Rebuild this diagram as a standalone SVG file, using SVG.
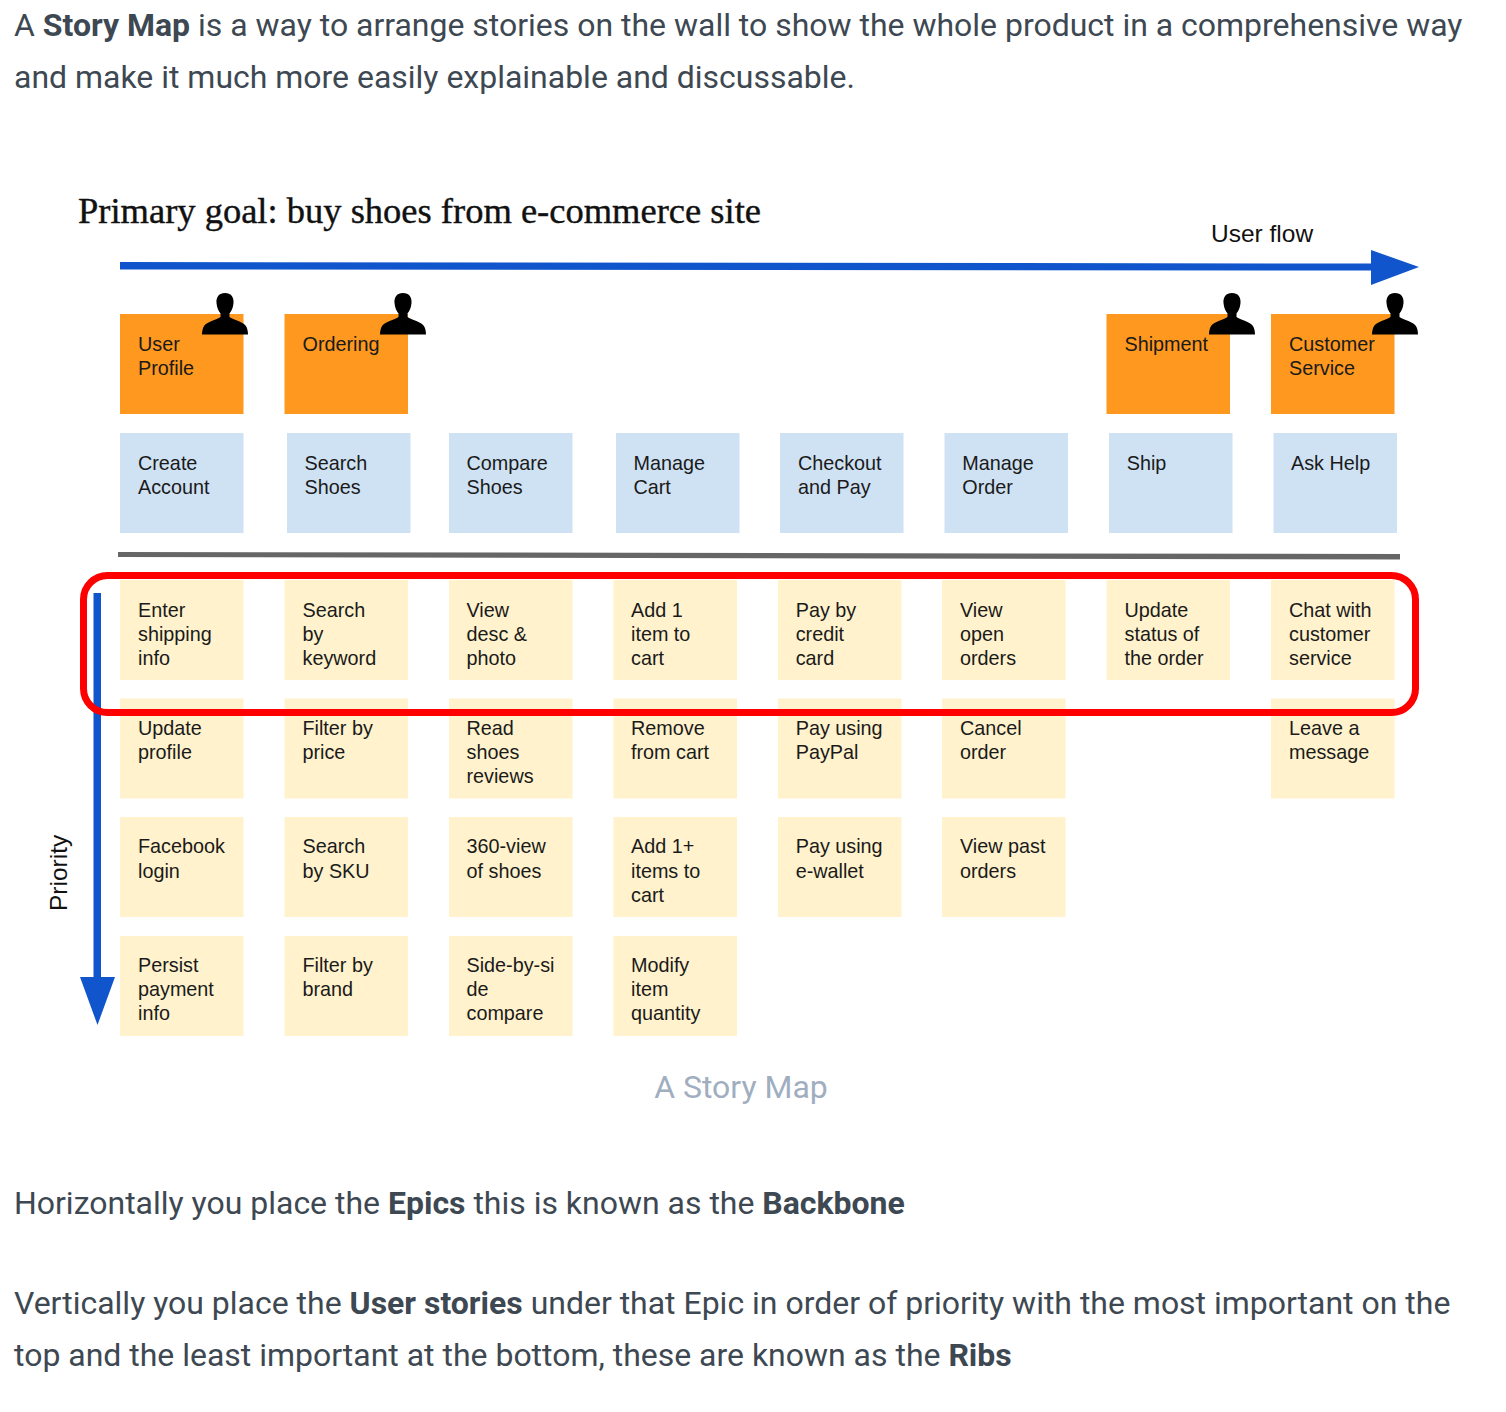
<svg xmlns="http://www.w3.org/2000/svg" width="1506" height="1412" viewBox="0 0 1506 1412">
<style>
.p{font-family:Roboto,"Liberation Sans",sans-serif;font-size:31.970px;fill:#3d4852}
.b{font-weight:700}
.c{font-family:"Liberation Sans",Arial,sans-serif;font-size:19.800px;fill:#1a1a1a}
.o{fill:#fe981e}.l{fill:#cfe2f3}.y{fill:#fff2cc}
.f{fill:#1155cc}
</style>
<defs>
<path id="person" d="M23 0C17 0 14 4 14.500 10C15 15 16.500 18 18.500 20.500V24C15 27 4 28.500 1.500 34C0.700 36 0 38 0 41.500H46C46 38 45.300 36 44.500 34C42 28.500 31 27 27.500 24V20.500C29.500 18 31 15 31.500 10C32 4 29 0 23 0Z" fill="#000"/>
</defs>
<rect width="1506" height="1412" fill="#fff"/>
<g id="intro">
<text class="p" x="14" y="36">A <tspan class="b">Story Map</tspan> is a way to arrange stories on the wall to show the whole product in a comprehensive way</text>
<text class="p" x="14" y="88">and make it much more easily explainable and discussable.</text>
</g>
<text id="title" x="78" y="223" font-family="'Liberation Serif',serif" font-size="36" fill="#111" stroke="#111" stroke-width="0.400" textLength="683" lengthAdjust="spacingAndGlyphs">Primary goal: buy shoes from e-commerce site</text>
<text id="userflow" x="1211" y="242" font-family="'Liberation Sans',sans-serif" font-size="24.500" fill="#111">User flow</text>
<text id="priority" transform="translate(67 911) rotate(-90)" font-family="'Liberation Sans',sans-serif" font-size="24.500" fill="#111">Priority</text>

<g id="u1"><rect class="o" x="120" y="314" width="123.500" height="100"/><use href="#person" x="202" y="293"/><text class="c" x="138" y="351">User</text><text class="c" x="138" y="375">Profile</text></g>
<g id="u2"><rect class="o" x="284.500" y="314" width="123.500" height="100"/><use href="#person" x="380" y="293"/><text class="c" x="302.500" y="351">Ordering</text></g>
<g id="u7"><rect class="o" x="1106.500" y="314" width="123.500" height="100"/><use href="#person" x="1209" y="293"/><text class="c" x="1124.500" y="351">Shipment</text></g>
<g id="u8"><rect class="o" x="1271" y="314" width="123.500" height="100"/><use href="#person" x="1372" y="293"/><text class="c" x="1289" y="351">Customer</text><text class="c" x="1289" y="375">Service</text></g>

<g id="a1"><rect class="l" x="120" y="433" width="123.500" height="100"/><text class="c" x="138" y="470">Create</text><text class="c" x="138" y="494">Account</text></g>
<g id="a2"><rect class="l" x="287" y="433" width="123.500" height="100"/><text class="c" x="304.500" y="470">Search</text><text class="c" x="304.500" y="494">Shoes</text></g>
<g id="a3"><rect class="l" x="449" y="433" width="123.500" height="100"/><text class="c" x="466.500" y="470">Compare</text><text class="c" x="466.500" y="494">Shoes</text></g>
<g id="a4"><rect class="l" x="616" y="433" width="123.500" height="100"/><text class="c" x="633.500" y="470">Manage</text><text class="c" x="633.500" y="494">Cart</text></g>
<g id="a5"><rect class="l" x="780" y="433" width="123.500" height="100"/><text class="c" x="798" y="470">Checkout</text><text class="c" x="798" y="494">and Pay</text></g>
<g id="a6"><rect class="l" x="944.500" y="433" width="123.500" height="100"/><text class="c" x="962.300" y="470">Manage</text><text class="c" x="962.300" y="494">Order</text></g>
<g id="a7"><rect class="l" x="1109" y="433" width="123.500" height="100"/><text class="c" x="1126.700" y="470">Ship</text></g>
<g id="a8"><rect class="l" x="1273.500" y="433" width="123.500" height="100"/><text class="c" x="1291" y="470">Ask Help</text></g>

<g id="r1c1"><rect class="y" x="120" y="580" width="123.500" height="100"/><text class="c" x="138" y="617">Enter</text><text class="c" x="138" y="641">shipping</text><text class="c" x="138" y="665">info</text></g>
<g id="r1c2"><rect class="y" x="284.500" y="580" width="123.500" height="100"/><text class="c" x="302.500" y="617">Search</text><text class="c" x="302.500" y="641">by</text><text class="c" x="302.500" y="665">keyword</text></g>
<g id="r1c3"><rect class="y" x="449" y="580" width="123.500" height="100"/><text class="c" x="466.500" y="617">View</text><text class="c" x="466.500" y="641">desc &amp;</text><text class="c" x="466.500" y="665">photo</text></g>
<g id="r1c4"><rect class="y" x="613.500" y="580" width="123.500" height="100"/><text class="c" x="631" y="617">Add 1</text><text class="c" x="631" y="641">item to</text><text class="c" x="631" y="665">cart</text></g>
<g id="r1c5"><rect class="y" x="778" y="580" width="123.500" height="100"/><text class="c" x="795.700" y="617">Pay by</text><text class="c" x="795.700" y="641">credit</text><text class="c" x="795.700" y="665">card</text></g>
<g id="r1c6"><rect class="y" x="942" y="580" width="123.500" height="100"/><text class="c" x="960" y="617">View</text><text class="c" x="960" y="641">open</text><text class="c" x="960" y="665">orders</text></g>
<g id="r1c7"><rect class="y" x="1106.500" y="580" width="123.500" height="100"/><text class="c" x="1124.500" y="617">Update</text><text class="c" x="1124.500" y="641">status of</text><text class="c" x="1124.500" y="665">the order</text></g>
<g id="r1c8"><rect class="y" x="1271" y="580" width="123.500" height="100"/><text class="c" x="1289" y="617">Chat with</text><text class="c" x="1289" y="641">customer</text><text class="c" x="1289" y="665">service</text></g>

<g id="r2c1"><rect class="y" x="120" y="698.500" width="123.500" height="100"/><text class="c" x="138" y="735">Update</text><text class="c" x="138" y="759">profile</text></g>
<g id="r2c2"><rect class="y" x="284.500" y="698.500" width="123.500" height="100"/><text class="c" x="302.500" y="735">Filter by</text><text class="c" x="302.500" y="759">price</text></g>
<g id="r2c3"><rect class="y" x="449" y="698.500" width="123.500" height="100"/><text class="c" x="466.500" y="735">Read</text><text class="c" x="466.500" y="759">shoes</text><text class="c" x="466.500" y="783">reviews</text></g>
<g id="r2c4"><rect class="y" x="613.500" y="698.500" width="123.500" height="100"/><text class="c" x="631" y="735">Remove</text><text class="c" x="631" y="759">from cart</text></g>
<g id="r2c5"><rect class="y" x="778" y="698.500" width="123.500" height="100"/><text class="c" x="795.700" y="735">Pay using</text><text class="c" x="795.700" y="759">PayPal</text></g>
<g id="r2c6"><rect class="y" x="942" y="698.500" width="123.500" height="100"/><text class="c" x="960" y="735">Cancel</text><text class="c" x="960" y="759">order</text></g>
<g id="r2c8"><rect class="y" x="1271" y="698.500" width="123.500" height="100"/><text class="c" x="1289" y="735">Leave a</text><text class="c" x="1289" y="759">message</text></g>

<g id="r3c1"><rect class="y" x="120" y="817" width="123.500" height="100"/><text class="c" x="138" y="853">Facebook</text><text class="c" x="138" y="878">login</text></g>
<g id="r3c2"><rect class="y" x="284.500" y="817" width="123.500" height="100"/><text class="c" x="302.500" y="853">Search</text><text class="c" x="302.500" y="878">by SKU</text></g>
<g id="r3c3"><rect class="y" x="449" y="817" width="123.500" height="100"/><text class="c" x="466.500" y="853">360-view</text><text class="c" x="466.500" y="878">of shoes</text></g>
<g id="r3c4"><rect class="y" x="613.500" y="817" width="123.500" height="100"/><text class="c" x="631" y="853">Add 1+</text><text class="c" x="631" y="878">items to</text><text class="c" x="631" y="902">cart</text></g>
<g id="r3c5"><rect class="y" x="778" y="817" width="123.500" height="100"/><text class="c" x="795.700" y="853">Pay using</text><text class="c" x="795.700" y="878">e-wallet</text></g>
<g id="r3c6"><rect class="y" x="942" y="817" width="123.500" height="100"/><text class="c" x="960" y="853">View past</text><text class="c" x="960" y="878">orders</text></g>

<g id="r4c1"><rect class="y" x="120" y="936" width="123.500" height="100"/><text class="c" x="138" y="972">Persist</text><text class="c" x="138" y="996">payment</text><text class="c" x="138" y="1020">info</text></g>
<g id="r4c2"><rect class="y" x="284.500" y="936" width="123.500" height="100"/><text class="c" x="302.500" y="972">Filter by</text><text class="c" x="302.500" y="996">brand</text></g>
<g id="r4c3"><rect class="y" x="449" y="936" width="123.500" height="100"/><text class="c" x="466.500" y="972">Side-by-si</text><text class="c" x="466.500" y="996">de</text><text class="c" x="466.500" y="1020">compare</text></g>
<g id="r4c4"><rect class="y" x="613.500" y="936" width="123.500" height="100"/><text class="c" x="631" y="972">Modify</text><text class="c" x="631" y="996">item</text><text class="c" x="631" y="1020">quantity</text></g>

<g id="connectors">
<polygon class="f" points="120,262 1371,263.500 1371,250 1419,267 1371,285 1371,270.500 120,269.500"/>
<polygon class="f" points="93.500,593 101,593 101,977 115,977 97.500,1025 80,977 93.500,977"/>
<polygon fill="#666" points="118,552 1400,554 1400,559.500 118,557"/>
<rect x="83.500" y="575.500" width="1332" height="137" rx="24" fill="none" stroke="#fe0000" stroke-width="7"/>
</g>
<text id="caption" class="p" x="741" y="1098" text-anchor="middle" style="fill:#a0aec0">A Story Map</text>
<g id="outro">
<text class="p" x="14" y="1214">Horizontally you place the <tspan class="b">Epics</tspan> this is known as the <tspan class="b">Backbone</tspan></text>
<text class="p" x="14" y="1314">Vertically you place the <tspan class="b">User stories</tspan> under that Epic in order of priority with the most important on the</text>
<text class="p" x="14" y="1366">top and the least important at the bottom, these are known as the <tspan class="b">Ribs</tspan></text>
</g>
</svg>
